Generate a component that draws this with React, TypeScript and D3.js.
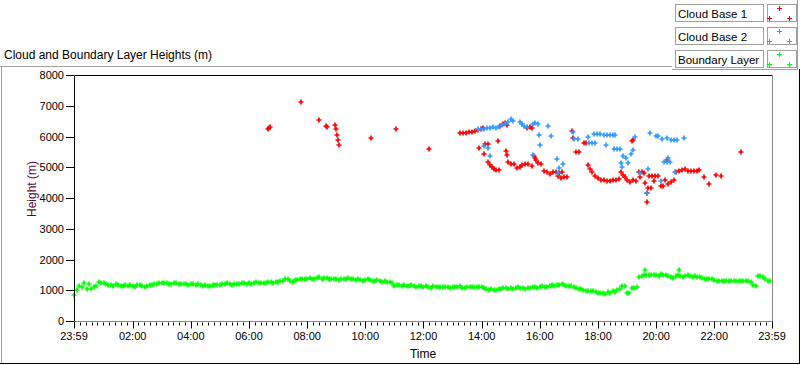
import React from 'react';
import * as d3 from 'd3';

const W = 800;
const H = 365;

// axis labels
const xTickLabels = ['23:59', '02:00', '04:00', '06:00', '08:00', '10:00', '12:00', '14:00', '16:00', '18:00', '20:00', '22:00', '23:59'];
const yTickValues = [0, 1000, 2000, 3000, 4000, 5000, 6000, 7000, 8000];

const legendItems = ['Cloud Base 1', 'Cloud Base 2', 'Boundary Layer'];
const seriesColors = ['#ff0000', '#3399ff', '#00ff00'];

// boundary layer height, one reading every 5 min from 00:00 (one row per hour)
const blStart = '00:00';
const blStepMin = 5;
const boundaryLayer = [
  850, 1000, 1150, 1100, 1250, 1050, 1200, 1050, 1100, 1150, 1270, 1250,
  1230, 1200, 1180, 1160, 1150, 1200, 1170, 1140, 1150, 1180, 1130, 1160,
  1150, 1120, 1160, 1180, 1140, 1110, 1130, 1170, 1170, 1190, 1200, 1230,
  1220, 1240, 1230, 1200, 1210, 1240, 1220, 1190, 1200, 1210, 1190, 1180,
  1200, 1190, 1180, 1200, 1170, 1150, 1160, 1140, 1150, 1170, 1160, 1180,
  1180, 1190, 1200, 1220, 1210, 1180, 1190, 1210, 1200, 1230, 1220, 1210,
  1230, 1210, 1240, 1260, 1220, 1250, 1250, 1230, 1260, 1280, 1240, 1260,
  1270, 1290, 1300, 1380, 1350, 1300, 1280, 1330, 1320, 1350, 1350, 1370,
  1360, 1400, 1380, 1350, 1400, 1420, 1370, 1390, 1390, 1360, 1360, 1380,
  1370, 1340, 1350, 1380, 1360, 1390, 1380, 1350, 1340, 1360, 1330, 1310,
  1330, 1350, 1320, 1300, 1300, 1320, 1310, 1280, 1290, 1270, 1270, 1240,
  1150, 1180, 1170, 1150, 1160, 1130, 1150, 1170, 1130, 1110, 1150, 1130,
  1120, 1140, 1100, 1080, 1130, 1110, 1110, 1090, 1090, 1120, 1100, 1080,
  1120, 1090, 1100, 1130, 1080, 1060, 1100, 1120, 1120, 1090, 1110, 1100,
  1090, 1070, 1050, 1020, 1030, 1000, 1010, 1050, 1040, 1060, 1060, 1040,
  1070, 1050, 1060, 1090, 1080, 1060, 1050, 1070, 1070, 1100, 1090, 1080,
  1100, 1130, 1120, 1100, 1130, 1160, 1150, 1170, 1180, 1200, 1160, 1140,
  1130, 1150, 1100, 1080, 1050, 1030, 1020, 990, 980, 960, 960, 930,
  920, 900, 900, 880, 940, 920, 960, 940, 1000, 1050, 1130, 1150,
  920, 900, 1080, 1060, 1100, 1420, 1450, 1500, 1480, 1500, 1480, 1500,
  1500, 1470, 1520, 1480, 1480, 1450, 1430, 1400, 1450, 1480, 1470, 1440,
  1470, 1490, 1450, 1430, 1460, 1420, 1420, 1400, 1380, 1370, 1350, 1360,
  1320, 1300, 1310, 1300, 1300, 1290, 1290, 1300, 1300, 1290, 1290, 1300,
  1290, 1300, 1300, 1280, 1170, 1150, 1460, 1450, 1420, 1380, 1310, 1300,
];
const boundaryExtra: [string, number][] = [['19:38', 1650], ['20:48', 1650]];

const cloudBase1: [string, number][] = [
  ['06:39', 6240], ['06:41', 6270], ['06:43', 6300], ['07:47', 7120], ['08:24', 6540],
  ['08:39', 6340], ['08:41', 6310], ['08:57', 6370], ['09:00', 6240], ['09:02', 6050],
  ['09:04', 5890], ['09:06', 5720], ['10:12', 5950], ['11:03', 6240], ['12:11', 5590],
  ['13:15', 6130], ['13:21', 6100], ['13:28', 6110], ['13:34', 6140], ['13:40', 6160],
  ['13:46', 6180], ['13:53', 6200], ['13:59', 6230], ['14:03', 6270],
  ['13:55', 5630], ['14:07', 5740], ['14:13', 5740], ['14:05', 5430],
  ['14:13', 5170], ['14:17', 5070], ['14:22', 5010], ['14:26', 4940], ['14:30', 4910], ['14:36', 4910],
  ['14:34', 5850], ['14:38', 6350], ['14:44', 6420], ['14:48', 6440], ['14:53', 6380],
  ['15:34', 6270], ['15:40', 6300], ['15:44', 6270],
  ['14:50', 5530], ['14:52', 5400], ['14:55', 5170], ['15:01', 5120], ['15:07', 5110],
  ['15:13', 4990], ['15:19', 5000], ['15:24', 5080], ['15:30', 5110], ['15:36', 5100],
  ['15:44', 5040], ['15:48', 5380], ['15:50', 5300], ['15:53', 5230], ['15:57', 5150], ['16:03', 5100],
  ['16:09', 4880], ['16:15', 4850], ['16:21', 4790], ['16:28', 4830], ['16:34', 4850], ['16:40', 4820],
  ['16:38', 4700], ['16:44', 4660], ['16:50', 4690], ['16:56', 4670], ['16:46', 4850],
  ['17:07', 6180], ['17:09', 5950], ['17:15', 5500], ['17:21', 5500], ['17:31', 5800], ['17:35', 5800],
  ['17:39', 5070], ['17:44', 4950], ['17:48', 4840], ['17:54', 4720], ['18:00', 4650],
  ['18:06', 4600], ['18:12', 4580], ['18:19', 4560], ['18:25', 4560], ['18:31', 4570], ['18:37', 4600], ['18:43', 4620],
  ['18:48', 4840], ['18:52', 4750], ['18:56', 4680], ['19:00', 4600],
  ['19:06', 4520], ['19:12', 4600], ['19:19', 4560], ['19:10', 5850], ['19:12', 5890],
  ['19:25', 4830], ['19:31', 4850], ['19:35', 4820], ['19:27', 4680], ['19:37', 4490],
  ['19:43', 4330], ['19:50', 4320], ['19:41', 4160], ['19:41', 3870],
  ['19:45', 4720], ['19:52', 4700], ['19:58', 4720], ['20:04', 4710], ['19:56', 4550],
  ['20:10', 4390], ['20:14', 4400], ['20:19', 4590], ['20:25', 4450], ['20:31', 4520], ['20:37', 4580], ['20:23', 5240],
  ['20:41', 4850], ['20:48', 4880], ['20:54', 4910], ['21:00', 4930], ['21:06', 4880], ['21:12', 4870],
  ['21:18', 4880], ['21:25', 4870], ['21:29', 4900],
  ['21:39', 4680], ['21:49', 4460], ['22:03', 4750], ['22:14', 4720], ['22:55', 5500],
];

const cloudBase2: [string, number][] = [
  ['13:53', 6250], ['13:59', 6260], ['14:05', 6260], ['14:11', 6270],
  ['14:17', 6280], ['14:24', 6300], ['14:30', 6290], ['14:36', 6310],
  ['14:42', 6370], ['14:48', 6420], ['14:55', 6480], ['15:01', 6570], ['15:05', 6520],
  ['15:19', 6470], ['15:24', 6400], ['15:28', 6340], ['15:34', 6300],
  ['15:46', 6400], ['15:50', 6440], ['15:57', 6420], ['16:17', 6340],
  ['15:59', 6050], ['16:23', 6020], ['16:01', 5720],
  ['14:13', 5630], ['14:05', 5690], ['14:17', 5370], ['15:46', 5400],
  ['16:36', 5270], ['16:48', 5110], ['16:40', 4980], ['16:38', 4810],
  ['17:09', 6150], ['17:11', 5920], ['17:19', 5920], ['17:39', 5980],
  ['17:42', 5800], ['17:48', 5800], ['17:54', 5800],
  ['17:52', 6080], ['17:58', 6080], ['18:04', 6080],
  ['18:12', 6050], ['18:19', 6050], ['18:25', 6050], ['18:31', 6050], ['18:35', 6050],
  ['18:17', 5720], ['18:33', 5600], ['18:39', 5600], ['18:46', 5600],
  ['18:52', 5380], ['18:58', 5300], ['19:08', 5430], ['19:12', 5560],
  ['18:48', 5140], ['18:50', 5020], ['19:02', 5150], ['19:17', 5980],
  ['19:48', 6110], ['20:00', 6020], ['20:04', 6020], ['20:12', 5920], ['20:23', 5950],
  ['20:31', 5880], ['20:37', 5880], ['20:43', 5880], ['20:58', 5950],
  ['20:17', 5180], ['20:23', 5160], ['20:29', 5180], ['20:25', 5300],
  ['19:43', 4940], ['19:27', 4810], ['20:10', 4550], ['20:39', 4850], ['19:41', 4160],
];

const toMin = (s: string) => {
  const [h, m] = s.split(':').map(Number);
  return h * 60 + m;
};

const FONT = '"Liberation Sans", Arial, sans-serif';

export default function App() {
  const plot = { left: 74, right: 772, top: 75, bottom: 321 };
  const x = d3.scaleLinear().domain([-1, 1439]).range([plot.left, plot.right]);
  const y = d3.scaleLinear().domain([0, 8000]).range([plot.bottom, plot.top]);

  const majorTicks = xTickLabels.map((lab, i) => ({
    lab,
    m: i === 0 ? toMin(lab) - 1440 : toMin(lab),
  }));
  const minorTicks: number[] = [];
  for (let i = 0; i < majorTicks.length - 1; i++) {
    const a = majorTicks[i].m;
    const b = majorTicks[i + 1].m;
    for (let k = 1; k < 10; k++) minorTicks.push(a + ((b - a) * k) / 10);
  }

  const cross = d3.symbol(d3.symbolCross, 14)() as string;
  const px = (v: number) => Math.round(v) + 0.5;

  const blPoints: [number, number][] = boundaryLayer.map((v, i) => [toMin(blStart) + i * blStepMin, v]);
  boundaryExtra.forEach(([t, v]) => blPoints.push([toMin(t), v]));
  const series: [number, number][][] = [
    cloudBase1.map(([t, v]) => [toMin(t), v]),
    cloudBase2.map(([t, v]) => [toMin(t), v]),
    blPoints,
  ];

  const yB = px(plot.bottom);
  const yT = px(plot.top);
  const xL = px(plot.left);
  const xR = px(plot.right);

  return (
    <svg width={W} height={H} style={{ position: 'absolute', left: 0, top: 0, background: '#fff' }} fontFamily={FONT}>
      {/* outer frame */}
      <line x1={0} y1={66.5} x2={672} y2={66.5} stroke="#a0a0a0" />
      <line x1={1.5} y1={66} x2={1.5} y2={363} stroke="#a0a0a0" />
      <line x1={0} y1={363.5} x2={800} y2={363.5} stroke="#000" />
      <line x1={799.5} y1={69} x2={799.5} y2={364} stroke="#000" />

      {/* legend panel */}
      <line x1={672} y1={69.5} x2={798} y2={69.5} stroke="#a0a0a0" />
      <line x1={797.5} y1={0} x2={797.5} y2={70} stroke="#a0a0a0" />
      {legendItems.map((name, i) => {
        const top = 4 + i * 23;
        return (
          <g key={name}>
            <rect x={675.5} y={top + 0.5} width={88} height={17} fill="#fff" stroke="#a0a0a0" />
            <text x={678} y={top + 13.5} fontSize={11.5} fill="#000">{name}</text>
            <rect x={767.5} y={top + 0.5} width={29} height={17} fill="#fff" stroke="#a0a0a0" />
            {[[779, top + 4], [769, top + 14], [789, top + 14]].map(([cx, cy], j) => (
              <g key={j} fill={seriesColors[i]}>
                <rect x={cx - 2} y={cy} width={5} height={1} />
                <rect x={cx} y={cy - 2} width={1} height={5} />
              </g>
            ))}
          </g>
        );
      })}

      {/* title */}
      <text x={4} y={59} fontSize={12} fill="#000">Cloud and Boundary Layer Heights (m)</text>

      {/* data */}
      {series.map((pts, si) => (
        <g key={si} fill={seriesColors[si]}>
          {pts.map(([t, v], i) => (
            <path key={i} d={cross} transform={`translate(${Math.round(x(t))},${Math.round(y(v))})`} />
          ))}
        </g>
      ))}

      {/* plot frame */}
      <line x1={xL} y1={yT} x2={xR} y2={yT} stroke="#000" />
      <line x1={xL} y1={yT} x2={xL} y2={yB} stroke="#000" />
      <line x1={xR} y1={yT} x2={xR} y2={yB} stroke="#888" />
      <line x1={xL} y1={yB} x2={xR} y2={yB} stroke="#888" />

      {/* y axis */}
      {yTickValues.map((v) => (
        <g key={v}>
          <line x1={66} y1={px(y(v))} x2={plot.left} y2={px(y(v))} stroke="#000" />
          <text x={64} y={y(v) + 4} fontSize={11} textAnchor="end" fill="#000">{v}</text>
        </g>
      ))}
      <text transform={`translate(36,189) rotate(-90)`} fontSize={12} textAnchor="middle" fill="#501030">Height (m)</text>

      {/* x axis */}
      {minorTicks.map((m, i) => (
        <line key={i} x1={px(x(m))} y1={yB + 1} x2={px(x(m))} y2={yB + 4} stroke="#000" />
      ))}
      {majorTicks.map((d, i) => (
        <g key={i}>
          <line x1={px(x(d.m))} y1={yB} x2={px(x(d.m))} y2={yB + 7} stroke="#000" />
          <text x={x(d.m)} y={340} fontSize={11} textAnchor="middle" fill="#000">{d.lab}</text>
        </g>
      ))}
      <text x={(plot.left + plot.right) / 2} y={358} fontSize={12} textAnchor="middle" fill="#000">Time</text>
    </svg>
  );
}
